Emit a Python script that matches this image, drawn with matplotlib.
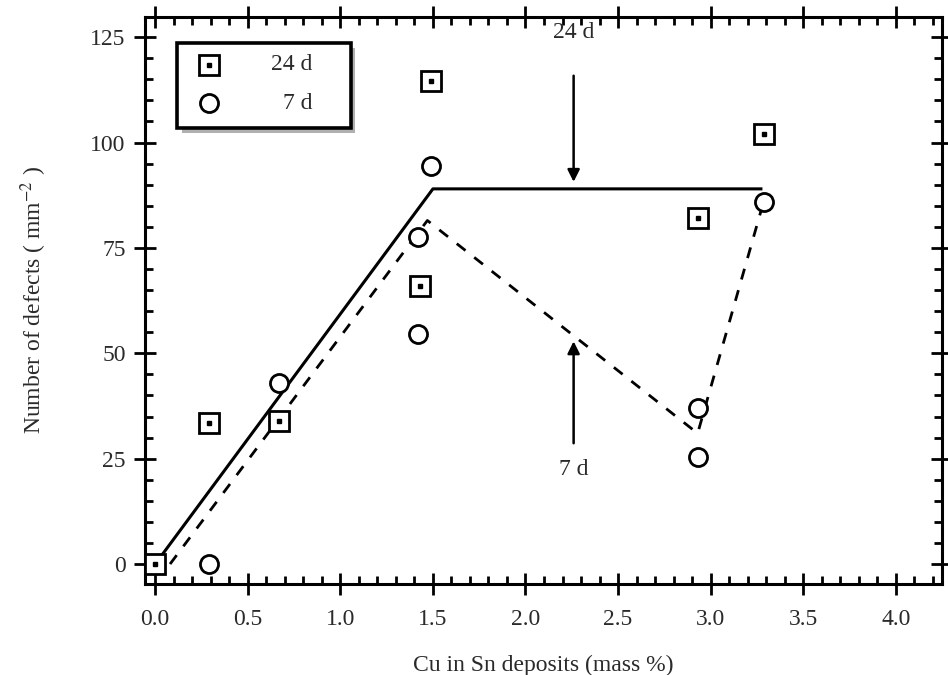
import matplotlib
matplotlib.use("Agg")
import matplotlib.pyplot as plt
from matplotlib.ticker import MultipleLocator, FormatStrFormatter
from matplotlib.patches import Rectangle

plt.rcParams['font.family'] = ['Liberation Serif', 'DejaVu Serif']
plt.rcParams['mathtext.fontset'] = 'stix'

# 24 d data (squares)
x24 = [0.0, 0.29, 0.67, 1.43, 1.49, 2.93, 3.29]
y24 = [0.0, 33.5, 34.0, 66.0, 114.6, 82.0, 102.0]
# 7 d data (circles)
x7 = [0.29, 0.67, 1.42, 1.42, 1.49, 2.93, 2.93, 3.29]
y7 = [0.0, 43.0, 77.5, 54.5, 94.5, 37.0, 25.5, 86.0]
# trend lines
fit24_x = [0.0, 1.5, 3.28]
fit24_y = [0.0, 89.0, 89.0]
fit7_x = [0.08, 1.47, 2.93, 3.28]
fit7_y = [0.0, 81.5, 31.0, 85.0]

TXT = '#2a2a2a'
fig = plt.figure(figsize=(9.48, 6.75), dpi=100)
ax = fig.add_axes([0.153, 0.135, 0.8407, 0.840])

ax.plot(fit24_x, fit24_y, color='black', lw=2.2, solid_capstyle='butt')
ax.plot(fit7_x, fit7_y, color='black', lw=2.0, dashes=(4, 4))

ax.plot(x24, y24, linestyle='none', marker='s', markersize=14, markerfacecolor='white',
        markeredgecolor='black', markeredgewidth=2.0, zorder=5)
ax.plot(x24, y24, linestyle='none', marker='s', markersize=2.2, color='black', zorder=6)
ax.plot(x7, y7, linestyle='none', marker='o', markersize=13, markerfacecolor='white',
        markeredgecolor='black', markeredgewidth=2.0, zorder=5)

# arrows
ax.annotate('', xy=(2.26, 90.0), xytext=(2.26, 116.5),
            arrowprops=dict(arrowstyle='-|>', color='black', lw=1.8, mutation_scale=18))
ax.text(2.26, 126.0, '24 d', ha='center', va='center', fontsize=17, color=TXT)
ax.annotate('', xy=(2.26, 53.5), xytext=(2.26, 28.0),
            arrowprops=dict(arrowstyle='-|>', color='black', lw=1.8, mutation_scale=18))
ax.text(2.26, 22.5, '7 d', ha='center', va='center', fontsize=17, color=TXT)

ax.set_xlim(-0.055, 4.25)
ax.set_ylim(-4.7, 129.8)
ax.xaxis.set_major_locator(MultipleLocator(0.5))
ax.xaxis.set_minor_locator(MultipleLocator(0.1))
ax.yaxis.set_major_locator(MultipleLocator(25))
ax.yaxis.set_minor_locator(MultipleLocator(5))
ax.xaxis.set_major_formatter(FormatStrFormatter('%.1f'))

for sp in ax.spines.values():
    sp.set_linewidth(2.2)

ax.tick_params(which='major', direction='inout', length=16, width=2.0,
               top=True, right=True, labelsize=17, labelcolor=TXT, pad=6)
ax.tick_params(axis='x', which='major', pad=10)
ax.tick_params(which='minor', direction='in', length=6, width=2.0, top=True, right=True)

ax.set_xlabel('Cu in Sn deposits (mass %)', fontsize=17, color=TXT, labelpad=18)
ax.set_ylabel('Number of defects ( mm$^{-2}$ )', fontsize=17, color=TXT, labelpad=30)

# legend box with shadow
ax.add_patch(Rectangle((0.145, 102.3), 0.935, 20.2, facecolor='#b0b0b0', edgecolor='none',
                       zorder=7))
ax.add_patch(Rectangle((0.12, 103.4), 0.935, 20.2, facecolor='white', edgecolor='black',
                       lw=2.6, zorder=8))
ax.plot([0.29], [118.4], linestyle='none', marker='s', markersize=14, markerfacecolor='white',
        markeredgecolor='black', markeredgewidth=2.0, zorder=9)
ax.plot([0.29], [118.4], linestyle='none', marker='s', markersize=2.2, color='black', zorder=10)
ax.plot([0.29], [109.3], linestyle='none', marker='o', markersize=13, markerfacecolor='white',
        markeredgecolor='black', markeredgewidth=2.0, zorder=9)
ax.text(0.85, 118.4, '24 d', ha='right', va='center', fontsize=17, color=TXT, zorder=10)
ax.text(0.85, 109.3, '7 d', ha='right', va='center', fontsize=17, color=TXT, zorder=10)

fig.savefig('out.png', dpi=100)
